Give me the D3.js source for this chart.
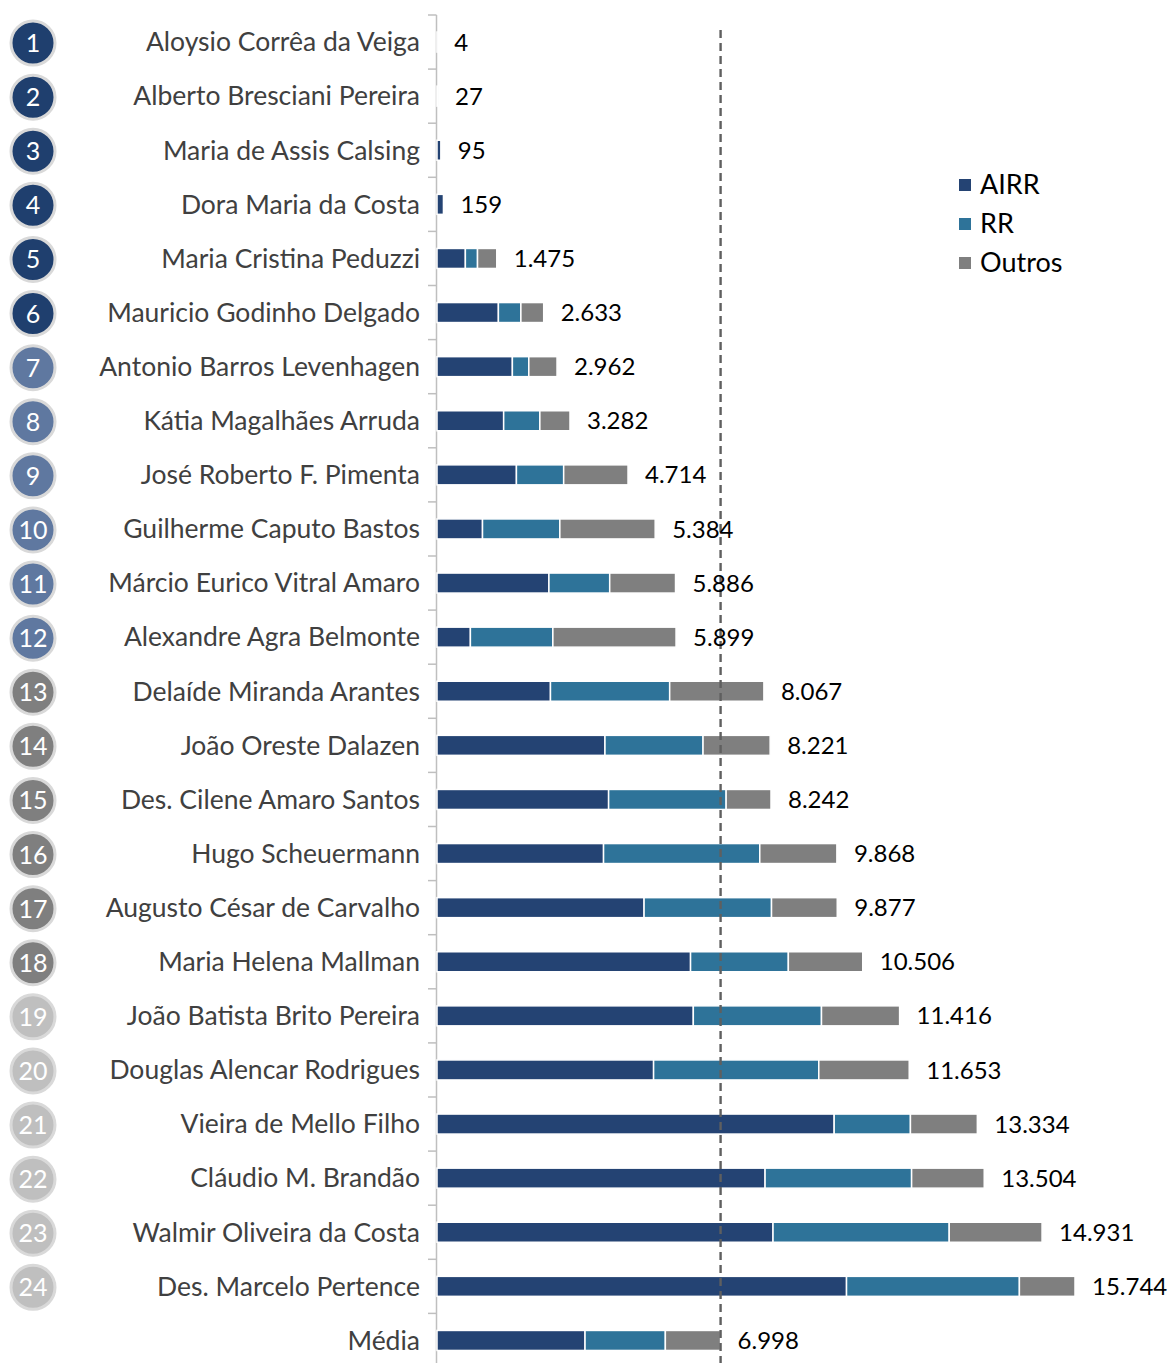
<!DOCTYPE html>
<html><head><meta charset="utf-8">
<script src="https://cdn.jsdelivr.net/npm/d3@7"></script>
<style>
html,body{margin:0;padding:0;background:#fff;}
svg{display:block;font-family:Lato,"Open Sans",sans-serif;}
</style></head>
<body>
<svg id="chart" width="1168" height="1363"></svg>
<script>
const names = ["Aloysio Corrêa da Veiga","Alberto Bresciani Pereira","Maria de Assis Calsing","Dora Maria da Costa","Maria Cristina Peduzzi","Mauricio Godinho Delgado","Antonio Barros Levenhagen","Kátia Magalhães Arruda","José Roberto F. Pimenta","Guilherme Caputo Bastos","Márcio Eurico Vitral Amaro","Alexandre Agra Belmonte","Delaíde Miranda Arantes","João Oreste Dalazen","Des. Cilene Amaro Santos","Hugo Scheuermann","Augusto César de Carvalho","Maria Helena Mallman","João Batista Brito Pereira","Douglas Alencar Rodrigues","Vieira de Mello Filho","Cláudio M. Brandão","Walmir Oliveira da Costa","Des. Marcelo Pertence","Média"];
const airr   = [4,27,95,159,700,1515,1860,1645,1960,1123,2762,824,2800,4145,4235,4110,5110,6257,6325,5345,9801,8096,8292,10106,3653];
const rr     = [0,0,0,0,300,555,405,893,1166,1908,1500,2035,2942,2420,2900,3855,3145,2413,3163,4076,1882,3616,4348,4266,1982];
const outros = [0,0,0,0,475,563,697,744,1588,2353,1624,3040,2325,1656,1107,1903,1622,1836,1928,2232,1651,1792,2291,1372,1363];
const totals = ["4","27","95","159","1.475","2.633","2.962","3.282","4.714","5.384","5.886","5.899","8.067","8.221","8.242","9.868","9.877","10.506","11.416","11.653","13.334","13.504","14.931","15.744","6.998"];
const totalValues = [4,27,95,159,1475,2633,2962,3282,4714,5384,5886,5899,8067,8221,8242,9868,9877,10506,11416,11653,13334,13504,14931,15744,6998];
const seriesNames = ["AIRR","RR","Outros"];
const seriesColors = ["#244373","#2e7399","#7f7f7f"];
const rankColors = ["#1f3f6e","#5f78a0","#7f7f7f","#bfbfbf"];
const mediaValue = 6998;

const svg = d3.select("#chart");
const x = d3.scaleLinear().domain([0, 15744]).range([437, 1075]);
const y = d3.scaleBand().domain(names).range([15, 15 + 54.1 * names.length]).padding(0);
const barH = 20;

// axis line and boundary ticks
svg.append("line").attr("x1", 436.5).attr("x2", 436.5).attr("y1", 15).attr("y2", 1363)
  .attr("stroke", "#bfbfbf").attr("stroke-width", 1.5);
svg.append("g").selectAll("line").data(d3.range(names.length + 1))
  .join("line")
  .attr("x1", 428).attr("x2", 436.5)
  .attr("y1", i => y.range()[0] + i * y.step()).attr("y2", i => y.range()[0] + i * y.step())
  .attr("stroke", "#bfbfbf").attr("stroke-width", 1.5);

// stacked bars
const rows = names.map((n,i)=>({name:n, AIRR:airr[i], RR:rr[i], Outros:outros[i]}));
const stack = d3.stack().keys(seriesNames)(rows);
svg.append("g").selectAll("g").data(stack).join("g")
  .attr("fill", (d,i)=>seriesColors[i])
  .selectAll("rect").data(d=>d).join("rect")
  .attr("x", d=>x(d[0]))
  .attr("width", d=>Math.max(0, x(d[1])-x(d[0])))
  .attr("y", d=>y(d.data.name) + (y.bandwidth()-barH)/2)
  .attr("height", barH)
  .attr("stroke", "#fff").attr("stroke-width", d=> (d[1]-d[0])>0 ? 1.5 : 0);

// dashed average line
svg.append("line").attr("x1", x(mediaValue)).attr("x2", x(mediaValue))
  .attr("y1", 30).attr("y2", 1363)
  .attr("stroke", "#5f5f5f").attr("stroke-width", 2.4).attr("stroke-dasharray", "8,5");

// category labels
svg.append("g").selectAll("text").data(names).join("text")
  .attr("x", 420).attr("y", d=>y(d)+y.bandwidth()/2)
  .attr("dy", "0.35em").attr("text-anchor", "end")
  .attr("font-size", 26.5).attr("fill", "#404040")
  .text(d=>d);

// value labels
svg.append("g").selectAll("text").data(names).join("text")
  .attr("x", (d,i)=>x(totalValues[i]) + 17)
  .attr("y", d=>y(d)+y.bandwidth()/2)
  .attr("dy", "0.36em")
  .attr("font-size", 24).attr("fill", "#000")
  .text((d,i)=>totals[i]);

// rank circles
const ranks = names.slice(0, 24);
const cg = svg.append("g").selectAll("g").data(ranks).join("g")
  .attr("transform", d=>`translate(33,${y(d)+y.bandwidth()/2 + 1})`);
cg.append("circle").attr("r", 22)
  .attr("fill", (d,i)=>rankColors[Math.floor(i/6)])
  .attr("stroke", "#d9d9d9").attr("stroke-width", 3);
cg.append("text").attr("text-anchor","middle").attr("dy","0.36em")
  .attr("font-size", 25).attr("fill","#fff")
  .text((d,i)=>i+1);

// legend
const lg = svg.append("g").selectAll("g").data(seriesNames).join("g")
  .attr("transform", (d,i)=>`translate(959,${185 + i*39})`);
lg.append("rect").attr("x",0).attr("y",-6).attr("width",12).attr("height",12)
  .attr("fill",(d,i)=>seriesColors[i]);
lg.append("text").attr("x", 21).attr("dy","0.35em").attr("font-size", 27).attr("fill","#000")
  .text(d=>d);
</script>
</body></html>
